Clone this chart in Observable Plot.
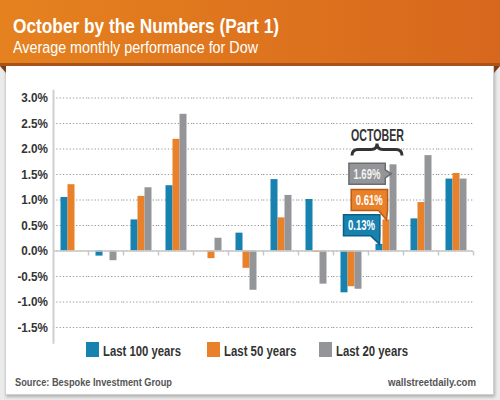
<!DOCTYPE html>
<html><head><meta charset="utf-8">
<script src="https://cdn.jsdelivr.net/npm/d3@7"></script>
<script src="https://cdn.jsdelivr.net/npm/@observablehq/plot@0.6"></script>
<style>
html,body{margin:0;padding:0;}
body{width:500px;height:400px;position:relative;overflow:hidden;background:#ebebeb;
  font-family:"Liberation Sans",Arial,sans-serif;}
#card{position:absolute;left:5px;top:60px;width:489px;height:335px;box-sizing:border-box;background:#fff;
  border:1px solid #d0d0d0;box-shadow:1px 2px 3px rgba(0,0,0,0.25);}
#banner{position:absolute;left:0;top:0;width:500px;height:63px;
  background:linear-gradient(to right,#e5821f,#d7671d);border-bottom:3px solid #a9521c;}
.fold{position:absolute;top:66px;width:0;height:0;}
#foldL{left:0;border-top:7px solid #7e3c12;border-left:6px solid transparent;}
#foldR{left:494px;border-top:7px solid #7e3c12;border-right:6px solid transparent;}
.fit{position:absolute;white-space:nowrap;transform-origin:0 0;}
#title{left:13px;top:15px;font-size:21px;line-height:21px;font-weight:bold;color:#fff;}
#subtitle{left:13px;top:40px;font-size:16px;line-height:16px;color:#fff;}
#chart{position:absolute;left:0;top:80px;}
#chart svg{overflow:visible;}
.item{position:absolute;top:342px;height:15px;}
.sw{position:absolute;left:0;top:0;width:13px;height:15px;}
.lt{left:17px;top:2px;font-size:14px;line-height:14px;font-weight:bold;color:#333;}
#source{left:15px;top:377px;font-size:11px;line-height:11px;font-weight:bold;color:#555;}
#site{left:388px;top:377px;font-size:11px;line-height:11px;font-weight:bold;color:#555;}
</style>
</head><body>
<div id="card"></div>
<div id="banner"></div>
<div id="foldL" class="fold"></div><div id="foldR" class="fold"></div>
<div id="title" class="fit" data-w="266">October by the Numbers (Part 1)</div>
<div id="subtitle" class="fit" data-w="245">Average monthly performance for Dow</div>
<div id="chart"></div>
<div id="legend"></div>
<div id="source" class="fit" data-w="157">Source: Bespoke Investment Group</div>
<div id="site" class="fit" data-w="88">wallstreetdaily.com</div>
<script>
// ---- data ----
const months = ["Jan","Feb","Mar","Apr","May","Jun","Jul","Aug","Sep","Oct","Nov","Dec"];
const series = ["Last 100 years","Last 50 years","Last 20 years"];
const last100 = [1.05,-0.10,0.61,1.28,0,0.35,1.40,1.01,-0.82,0.13,0.63,1.41];
const last50  = [1.30,0,1.07,2.19,-0.15,-0.34,0.65,-0.03,-0.70,0.61,0.95,1.52];
const last20  = [0,-0.19,1.24,2.68,0.25,-0.77,1.09,-0.65,-0.75,1.69,1.87,1.41];
const yTicks = [-1.5,-1.0,-0.5,0,0.5,1.0,1.5,2.0,2.5,3.0];
const calloutMonth = "Oct";
const calloutTitle = "OCTOBER";

// ---- styles ----
const colors = ["#1782b0","#e8812a","#939598"];
const borders = ["#0e5f86","#b85c17","#6b6c6f"];
const font = '"Liberation Sans",Arial,sans-serif';

const seriesValues = [last100, last50, last20];
const rows = months.flatMap((m,i) => series.map((s,k) => ({month:m, series:s, value:seriesValues[k][i]})));
const ci = months.indexOf(calloutMonth);
const calloutRows = series.map((s,k) => ({month:calloutMonth, series:s, value:seriesValues[k][ci]}));
const octMax = {month:calloutMonth, value:d3.max(calloutRows, d=>d.value), text:calloutTitle};

const tickSymbol = {draw(ctx){ctx.moveTo(0,0); ctx.lineTo(0,4.5);}};
const axisSymbol = {draw(ctx){ctx.moveTo(0,-123); ctx.lineTo(0,131);}};
const braceSymbol = {draw(ctx){
  ctx.moveTo(-25,6); ctx.quadraticCurveTo(-25,0,-19,0); ctx.lineTo(-6,0);
  ctx.quadraticCurveTo(0,0,0,-6); ctx.quadraticCurveTo(0,0,6,0);
  ctx.lineTo(19,0); ctx.quadraticCurveTo(25,0,25,6);
}};
const offs = [[-18,-18.5],[-17.3,-19.4],[-26.6,9.5]];

const chart = Plot.plot({
  width: 500, height: 268,
  marginLeft: 49.5, marginRight: 23.5, marginTop: 17.5, marginBottom: 21,
  style: {fontFamily: font, fontWeight: "bold", background: "transparent", overflow: "visible"},
  fx: {domain: months, padding: 0, axis: null},
  x: {domain: series, paddingInner: 0, paddingOuter: 0.78, axis: null},
  y: {domain: [-1.5, 3], axis: null},
  color: {domain: series, range: colors},
  marks: [
    Plot.gridY(yTicks, {stroke: "#9a9a9a", strokeOpacity: 1, strokeDasharray: "1.3,2"}),
    Plot.axisY(yTicks, {tickSize: 0, tickPadding: 5.5, label: null, fontSize: 13, color: "#333",
      tickFormat: d => d.toFixed(1) + "%", ariaDescription: "ylabels"}),
    Plot.barY(rows, {fx: "month", x: "series", y: "value", fill: "series"}),
    Plot.ruleY([0], {stroke: "#c8c8c8", strokeWidth: 1.5}),
    Plot.dot(months.slice(1), {fx: d => d, y: () => 0, frameAnchor: "left", symbol: tickSymbol,
      fill: "none", stroke: "#c8c8c8", strokeWidth: 1.5}),
    Plot.dot(months.slice(-1), {fx: d => d, y: () => 0, frameAnchor: "right", symbol: tickSymbol,
      fill: "none", stroke: "#c8c8c8", strokeWidth: 1.5}),
    Plot.dot(months.slice(0,1), {fx: d => d, frameAnchor: "left", symbol: axisSymbol,
      fill: "none", stroke: "#cfcfcf", strokeWidth: 2}),
    Plot.text([octMax], {fx: "month", y: "value", text: "text", dx: -8.5, dy: -29.7,
      fontSize: 17, fontWeight: "bold", fill: "#333", ariaDescription: "octtitle"}),
    Plot.dot([octMax], {fx: "month", y: "value", dx: -9, dy: -15.3, symbol: braceSymbol,
      fill: "none", stroke: "#333", strokeWidth: 3}),
    ...calloutRows.map((d,k) => Plot.text([d], {fx: "month", x: "series", y: "value",
      text: r => r.value.toFixed(2) + "%", dx: offs[k][0], dy: offs[k][1],
      fill: k === 2 ? "#f2f2f2" : "#fff", fontSize: 14, fontWeight: "bold", ariaDescription: "callout-" + k}))
  ]
});
document.getElementById("chart").append(chart);

// horizontal condensing of text (the original uses a condensed face)
function squeeze(el, sx){
  const t = el.getAttribute("transform") || "";
  el.setAttribute("transform", t + ` scale(${sx},1)`);
}
const svg = d3.select(chart);
svg.selectAll("[aria-description='ylabels'] text").each(function(){ squeeze(this, 0.9); });
svg.selectAll("[aria-description='octtitle'] text").each(function(){
  squeeze(this, 53 / this.getBBox().width);
});

// callout boxes behind the labels, built from each label's own box
const NS = "http://www.w3.org/2000/svg";
const csx = 0.68;
svg.selectAll("g[aria-description^='callout-']").each(function(){
  const k = +this.getAttribute("aria-description").split("-")[1];
  d3.select(this).selectAll("text").each(function(){
    const b = this.getBBox();
    const l = b.x*csx - 4.5, r = (b.x + b.width)*csx + 4.5, cy = b.y + b.height/2, t = cy - 10.5, bo = cy + 10.5;
    let p;
    if (k === 2) p = `M${l},${t}H${r}V${cy-4}L${r+6},${cy}L${r},${cy+4}V${bo}H${l}Z`;
    else p = `M${l},${t}H${r}V${bo}L${-offs[k][0]},${-offs[k][1]}L${r-9},${bo}H${l}Z`;
    const el = document.createElementNS(NS, "path");
    el.setAttribute("d", p);
    if (this.getAttribute("transform")) el.setAttribute("transform", this.getAttribute("transform"));
    el.setAttribute("fill", colors[k]);
    el.setAttribute("stroke", borders[k]);
    el.setAttribute("stroke-width", "1.5");
    this.parentNode.insertBefore(el, this);
    squeeze(this, csx);
  });
});

// legend
const legendLeft = [86, 206.7, 318.7];
const legendW = [78, 72.3, 72];
const legend = d3.select("#legend");
series.forEach((s,k) => {
  const it = legend.append("div").attr("class","item").style("left", legendLeft[k] + "px");
  it.append("div").attr("class","sw").style("background", colors[k]);
  it.append("div").attr("class","lt fit").attr("data-w", legendW[k]).text(s);
});

// fit HTML texts to the widths measured on the original
document.querySelectorAll(".fit").forEach(el => {
  const w = el.getBoundingClientRect().width;
  el.style.transform = `scaleX(${(+el.dataset.w) / w})`;
});
</script>
</body></html>
